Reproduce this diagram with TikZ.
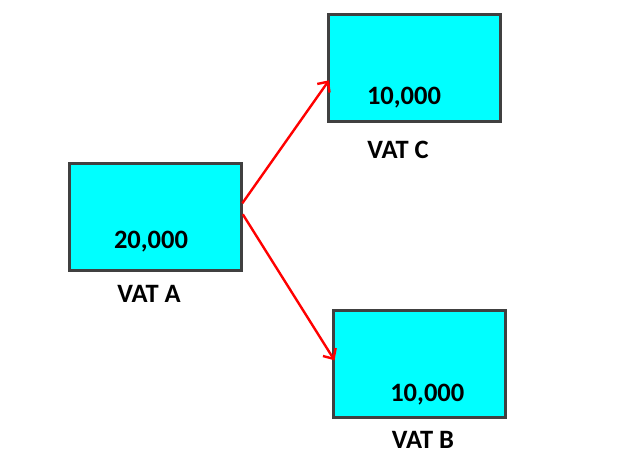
\documentclass[tikz,border=0pt]{standalone}
\usepackage{fontspec}
\setmainfont{Carlito}
\usetikzlibrary{arrows.meta}
\definecolor{boxline}{HTML}{404040}
\definecolor{boxfill}{HTML}{00FFFF}
\definecolor{arrowred}{HTML}{FF0000}
\begin{document}
\begin{tikzpicture}[x=1pt,y=-1pt,
  vat/.style={draw=boxline,line width=3pt,fill=boxfill,minimum width=172pt,minimum height=107pt,inner sep=0pt,outer sep=0pt},
  lbl/.style={font=\bfseries\fontsize{26.5}{30}\selectfont,anchor=base,inner sep=0pt},
  link/.style={draw=arrowred,line width=2.4pt,-{Straight Barb[length=8pt,width=15pt,line width=2.4pt]}}]
\useasboundingbox (0,0) rectangle (619,466);
\node[vat] (A) at (155.3,217.3) {};
\node[vat] (C) at (414,68.3) {};
\node[vat] (B) at (419.5,364.3) {};
\node[lbl] (ta) at (151,248) {20,000};
\node[lbl] (la) at (149,302.5) {VAT A};
\node[lbl] (tc) at (404,104) {10,000};
\node[lbl] (lc) at (398,158) {VAT C};
\node[lbl] (tb) at (427.3,401.7) {10,000};
\node[lbl] (lb) at (423,448.3) {VAT B};
\coordinate (s1) at ([xshift=1pt,yshift=14pt]A.east);
\coordinate (s2) at ([xshift=1.5pt,yshift=3pt]A.east);
\coordinate (e1) at ([xshift=1pt,yshift=-12pt]C.west);
\coordinate (e2) at ([xshift=1pt,yshift=4pt]B.west);
\draw[link] (s1) -- (e1);
\draw[link] (s2) -- (e2);
\end{tikzpicture}
\end{document}
